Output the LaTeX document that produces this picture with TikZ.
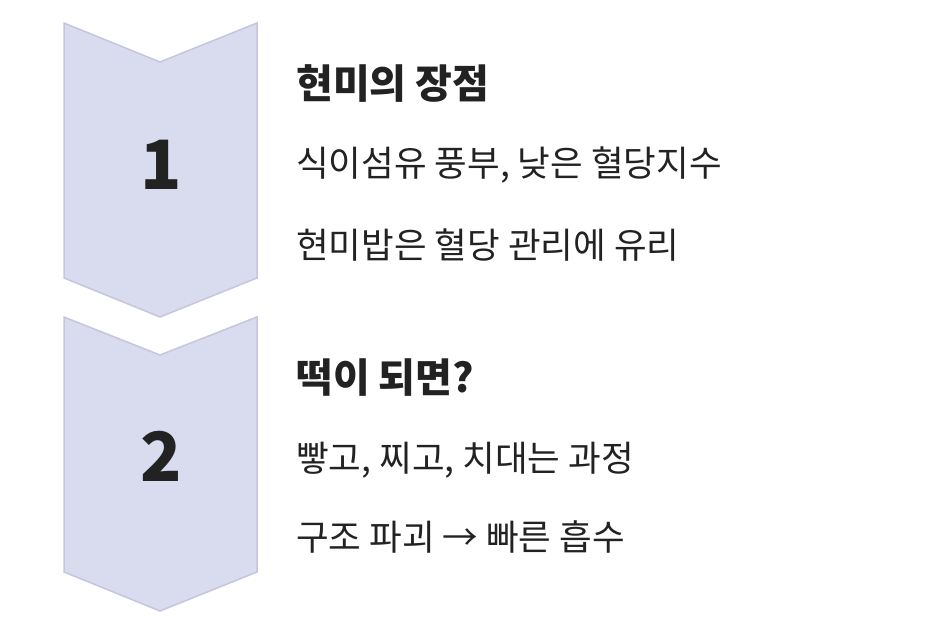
\documentclass[tikz,border=0pt]{standalone}
\usepackage{fontspec}
\setmainfont{Noto Sans CJK KR}
\definecolor{chevfill}{HTML}{D9DBEF}
\definecolor{chevline}{HTML}{C4C6E0}
\definecolor{ink}{HTML}{222222}
\tikzset{
  chevron/.style={fill=chevfill, draw=chevline, line width=1.5pt, line join=miter},
  stepnum/.style={text=ink, font=\bfseries\fontsize{68}{68}\selectfont, inner sep=0pt},
  heading/.style={anchor=west, text=ink, font=\bfseries\fontsize{40}{44}\selectfont, inner sep=0pt},
  bodyline/.style={anchor=west, text=ink, font=\fontsize{35.5}{40}\selectfont, inner sep=0pt}
}
\begin{document}
\begin{tikzpicture}[x=1pt, y=-1pt]
\useasboundingbox (0,0) rectangle (952,634);
% first chevron
\draw [chevron] (64,23) -- (160,62) -- (257,23) -- (257,278) -- (160,317) -- (64,278) -- cycle;
% second chevron
\draw [chevron] (64,317) -- (160,355) -- (257,317) -- (257,572) -- (160,611) -- (64,572) -- cycle;
\coordinate (N1) at (161,165);
\coordinate (N2) at (161,456);
\node (one) at (N1) [stepnum] {1};
\node (two) at (N2) [stepnum] {2};
\node (H1) at (296,83) [heading] {현미의 장점};
\node (L1) at (296,165) [bodyline] {식이섬유 풍부, 낮은 혈당지수};
\node (L2) at (296,245) [bodyline] {현미밥은 혈당 관리에 유리};
\node (H2) at (296,378) [heading] {떡이 되면?};
\node (L3) at (296,460) [bodyline] {빻고, 찌고, 치대는 과정};
\node (L4) at (296,537) [bodyline] {구조 파괴 → 빠른 흡수};
\end{tikzpicture}
\end{document}
